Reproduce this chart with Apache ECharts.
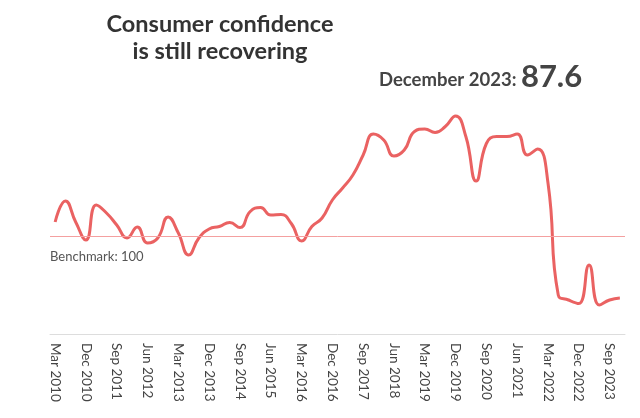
<!DOCTYPE html>
<html>
<head>
<meta charset="utf-8">
<script src="https://cdn.jsdelivr.net/npm/echarts@6/dist/echarts.min.js"></script>
<style>
html,body{margin:0;padding:0;background:#fff;}
#chart{width:640px;height:418px;}
</style>
</head>
<body>
<div id="chart"></div>
<script>
var quarterMonths = ['Mar', 'Jun', 'Sep', 'Dec'];
var years = [2010, 2011, 2012, 2013, 2014, 2015, 2016, 2017, 2018, 2019, 2020, 2021, 2022, 2023];
var categories = [];
years.forEach(function (y) { quarterMonths.forEach(function (m) { categories.push(m + ' ' + y); }); });

var confidence = [
  102.8, 107.0, 102.8, 99.2, 106.2, 104.6, 102.2, 99.6,
  101.8, 98.6, 99.6, 103.8, 100.6, 96.2, 99.6, 101.4,
  101.9, 102.7, 101.7, 104.9, 105.7, 104.2, 104.3, 102.5,
  99.0, 101.9, 103.6, 107.2, 109.6, 112.2, 116.2, 120.4,
  119.2, 116.0, 117.2, 120.9, 121.4, 120.7, 121.9, 124.0,
  119.9, 111.0, 118.5, 119.9, 119.9, 120.4, 116.2, 117.4,
  110.6, 88.2, 87.2, 86.5, 94.2, 86.2, 87.2, 87.6
];
var benchmark = 100;
var latestLabel = 'December 2023';
var latestValue = 87.6;

var chart = echarts.init(document.getElementById('chart'));
chart.setOption({
  backgroundColor: '#fff',
  animation: false,
  textStyle: { fontFamily: 'Lato' },
  title: [
    {
      text: 'Consumer confidence\nis still recovering',
      left: 215, top: 6, textAlign: 'center',
      textStyle: { fontFamily: 'Lato', fontWeight: 'bold', fontSize: 23.5, lineHeight: 27, color: '#333' }
    },
    {
      text: '{a|' + latestLabel + ': }{b|' + latestValue + '}',
      left: 374, top: 56,
      textStyle: {
        rich: {
          a: { fontFamily: 'Lato', fontWeight: 'bold', fontSize: 18.5, color: '#444', verticalAlign: 'bottom', padding: [0, 0, 2, 0] },
          b: { fontFamily: 'Lato', fontWeight: 'bold', fontSize: 31, color: '#444', verticalAlign: 'bottom' }
        }
      }
    }
  ],
  grid: { left: 50, right: 15, top: 84, height: 250 },
  xAxis: {
    type: 'category',
    data: categories,
    boundaryGap: true,
    axisLine: { lineStyle: { color: '#dddddd', width: 1 } },
    axisTick: { show: false },
    axisLabel: { interval: 2, rotate: -90, margin: 9, fontFamily: 'Lato', fontSize: 13.5, color: '#444' }
  },
  yAxis: {
    type: 'value', min: 80.4, max: 130.4, show: false, splitLine: { show: false }
  },
  series: [{
    type: 'line',
    data: confidence,
    smooth: 0.5,
    symbol: 'none',
    lineStyle: { color: '#ea6262', width: 3 },
    markLine: {
      silent: true,
      symbol: 'none',
      lineStyle: { color: '#f4a0a0', width: 1, type: 'solid' },
      label: {
        position: 'insideStartBottom',
        formatter: 'Benchmark: ' + benchmark,
        fontFamily: 'Lato', fontSize: 13, color: '#555', distance: [0, 14]
      },
      data: [{ yAxis: benchmark }]
    }
  }]
});
</script>
</body>
</html>
